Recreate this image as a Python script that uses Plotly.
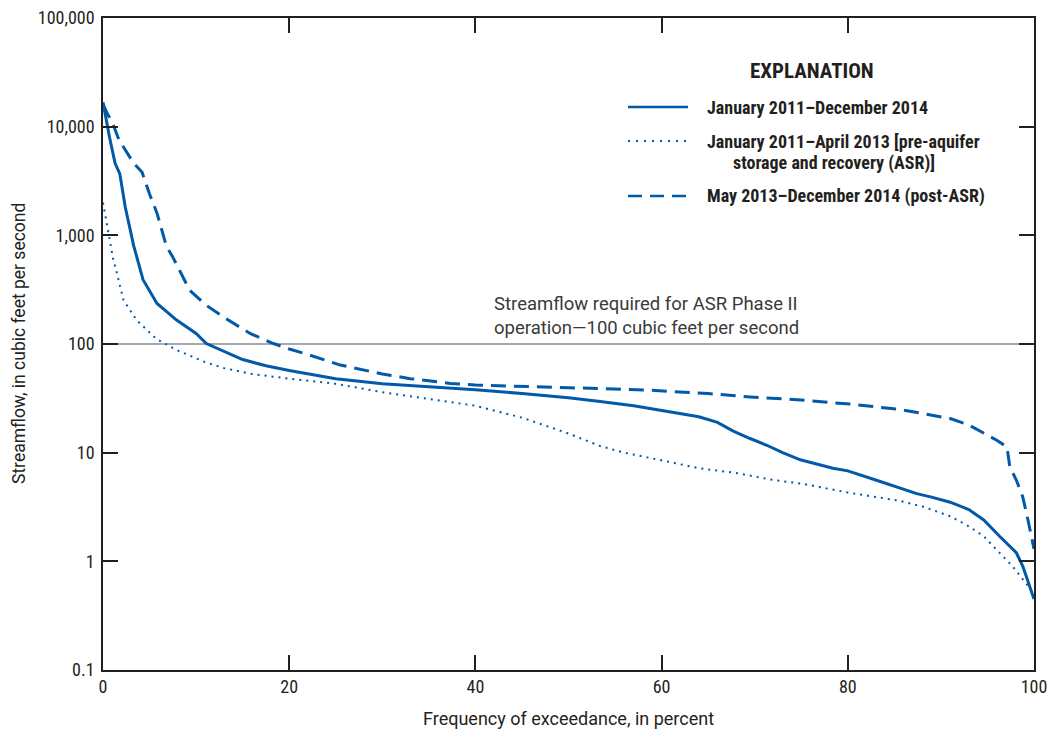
import plotly.graph_objects as go

# Flow-duration curves: frequency of exceedance (percent) vs. streamflow (ft3/s)
total_pct = [0, 0.3, 0.7, 1.3, 1.8, 2.4, 3.3, 4.3, 5.8, 7.9, 10, 11.1, 13, 15, 17.5, 20,
             25, 30, 35, 40, 45, 50, 53.4, 57, 60.5, 64, 66, 67.7, 69.5, 71.3, 73, 74.9,
             78.4, 80, 83, 85.6, 87.4, 89, 91, 93, 94.6, 96.3, 97.5, 98.1, 98.8, 99.2,
             99.6, 100]
total_q = [16800, 12000, 8000, 4600, 3700, 1800, 800, 390, 236, 166, 125, 101, 85, 72,
           63, 57, 48, 43, 40.5, 38, 35, 32, 29.5, 27, 24, 21.4, 19, 15.8, 13.5, 11.7,
           10, 8.6, 7.2, 6.8, 5.6, 4.7, 4.2, 3.9, 3.5, 3.0, 2.4, 1.7, 1.35, 1.2, 0.9,
           0.72, 0.58, 0.45]

pre_pct = [0, 0.4, 0.75, 1.1, 1.5, 2.2, 3.6, 5.7, 7.9, 11, 13, 16, 20, 25, 30, 35, 40,
           45, 48, 50, 53.4, 56, 60, 64, 68, 72, 75, 80, 85.6, 88, 91, 93, 94.6, 96.3,
           97.7, 99, 100]
pre_q = [2000, 1300, 900, 600, 446, 253, 166, 112, 88, 68, 60, 53, 48, 43, 36, 31, 27,
         21, 17.3, 15, 11.5, 10, 8.5, 7.2, 6.5, 5.6, 5.2, 4.3, 3.6, 3.2, 2.6, 2.1, 1.7,
         1.2, 0.9, 0.65, 0.5]

post_pct = [0, 0.5, 1.0, 1.3, 1.6, 2.2, 3.3, 4.2, 5, 5.8, 6.8, 7.5, 8.5, 9.3, 11, 12.9,
            15.8, 18.3, 20, 22, 25.5, 30, 33, 37.3, 40, 45, 50, 53.4, 58.8, 65, 69.5, 75,
            80.2, 85.6, 88, 91, 93, 94.6, 96, 97.1, 97.4, 98.1, 98.8, 99.4, 99.8, 100]
post_q = [16000, 13000, 11000, 9500, 8000, 6500, 4600, 3800, 2400, 1600, 800, 630, 420,
          313, 230, 178, 125, 101, 90, 80, 64, 53, 48, 43.4, 42, 40.5, 39.5, 39, 37.5,
          35, 32.6, 30.5, 28, 25, 23, 20.6, 18, 15.1, 13, 11.3, 7.4, 5.6, 3.9, 2.3, 1.5,
          1.3]

required_flow = 100

y_tickvals = [0.1, 1, 10, 100, 1000, 10000, 100000]
y_ticktext = ["0.1", "1", "10", "100", "1,000", "10,000", "100,000"]
x_tickvals = [0, 20, 40, 60, 80, 100]

series_names = ["January 2011\u2013December 2014",
                "January 2011\u2013April 2013 [pre-aquifer",
                "May 2013\u2013December 2014 (post-ASR)"]

BLUE = "#0059A9"
INK = "#231F20"
COND = "Roboto Condensed, Liberation Sans Narrow, Roboto, sans-serif"
REG = "Roboto, Liberation Sans, sans-serif"

fig = go.Figure()

fig.add_trace(go.Scatter(x=[0, 100], y=[required_flow, required_flow], mode="lines",
                         line=dict(color="#A7A9AC", width=2), showlegend=False,
                         hoverinfo="skip"))
fig.add_trace(go.Scatter(x=pre_pct, y=pre_q, mode="lines", name=series_names[1],
                         line=dict(color=BLUE, width=2, dash="2px,5px"), showlegend=False))
fig.add_trace(go.Scatter(x=post_pct, y=post_q, mode="lines", name=series_names[2],
                         line=dict(color=BLUE, width=3, dash="15px,8px"), showlegend=False))
fig.add_trace(go.Scatter(x=total_pct, y=total_q, mode="lines", name=series_names[0],
                         line=dict(color=BLUE, width=3), showlegend=False))

# Plot-area geometry in pixels, used to place the explanation block and titles
L, R, T, B = 103, 1034, 18, 670


def px(xp):
    return (xp - L) / (R - L)


def py(yp):
    return (B - yp) / (B - T)


# Explanation (legend) block
legend_rows = [
    (107, dict(color=BLUE, width=2.5), series_names[0]),
    (141, dict(color=BLUE, width=2, dash="2px,6px"), series_names[1]),
    (196, dict(color=BLUE, width=2.5, dash="14px,8px"), series_names[2]),
]
for ypix, lstyle, label in legend_rows:
    fig.add_shape(type="line", xref="paper", yref="paper",
                  x0=px(628), x1=px(688), y0=py(ypix), y1=py(ypix), line=lstyle)
    fig.add_annotation(xref="paper", yref="paper", x=px(705), y=py(ypix),
                       xanchor="left", yanchor="middle", showarrow=False,
                       text="<b>" + label + "</b>",
                       font=dict(family=COND, size=18, color=INK))
fig.add_annotation(xref="paper", yref="paper", x=px(731), y=py(163),
                   xanchor="left", yanchor="middle", showarrow=False,
                   text="<b>storage and recovery (ASR)]</b>",
                   font=dict(family=COND, size=18, color=INK))
fig.add_annotation(xref="paper", yref="paper", x=px(812), y=py(71),
                   xanchor="center", yanchor="middle", showarrow=False,
                   text="<b>EXPLANATION</b>",
                   font=dict(family=COND, size=21, color=INK))

# Label for the required-streamflow line
fig.add_annotation(x=41.8, y=2, yref="y", xref="x", xanchor="left", yanchor="bottom",
                   yshift=3, showarrow=False, align="left",
                   text="Streamflow required for ASR Phase II<br>operation\u2014100 cubic feet per second",
                   font=dict(family=REG, size=18.5, color="#3A3A3A"))

# Axis titles
fig.add_annotation(xref="paper", yref="paper", x=0.5, y=py(718),
                   xanchor="center", yanchor="middle", showarrow=False,
                   text="Frequency of exceedance, in percent",
                   font=dict(family=REG, size=18, color=INK))
fig.add_annotation(xref="paper", yref="paper", x=px(19), y=0.5,
                   xanchor="center", yanchor="middle", showarrow=False, textangle=-90,
                   text="Streamflow, in cubic feet per second",
                   font=dict(family=REG, size=17.5, color=INK))

axis_common = dict(showline=True, linecolor=INK, linewidth=1.5, mirror="ticks",
                   ticks="inside", ticklen=15, tickwidth=1.5, tickcolor=INK,
                   showgrid=False, zeroline=False, automargin=False,
                   ticklabeloverflow="allow",
                   tickfont=dict(family=COND, size=18, color=INK))

fig.update_xaxes(range=[0, 100], tickvals=x_tickvals, **axis_common)
fig.update_yaxes(type="log", range=[-1, 5], tickvals=y_tickvals, ticktext=y_ticktext,
                 ticklabelstandoff=3, **axis_common)

fig.update_layout(width=1047, height=733, margin=dict(l=L, r=1047 - R, t=T, b=733 - B),
                  plot_bgcolor="white", paper_bgcolor="white", showlegend=False)

fig.write_html("out.html")
